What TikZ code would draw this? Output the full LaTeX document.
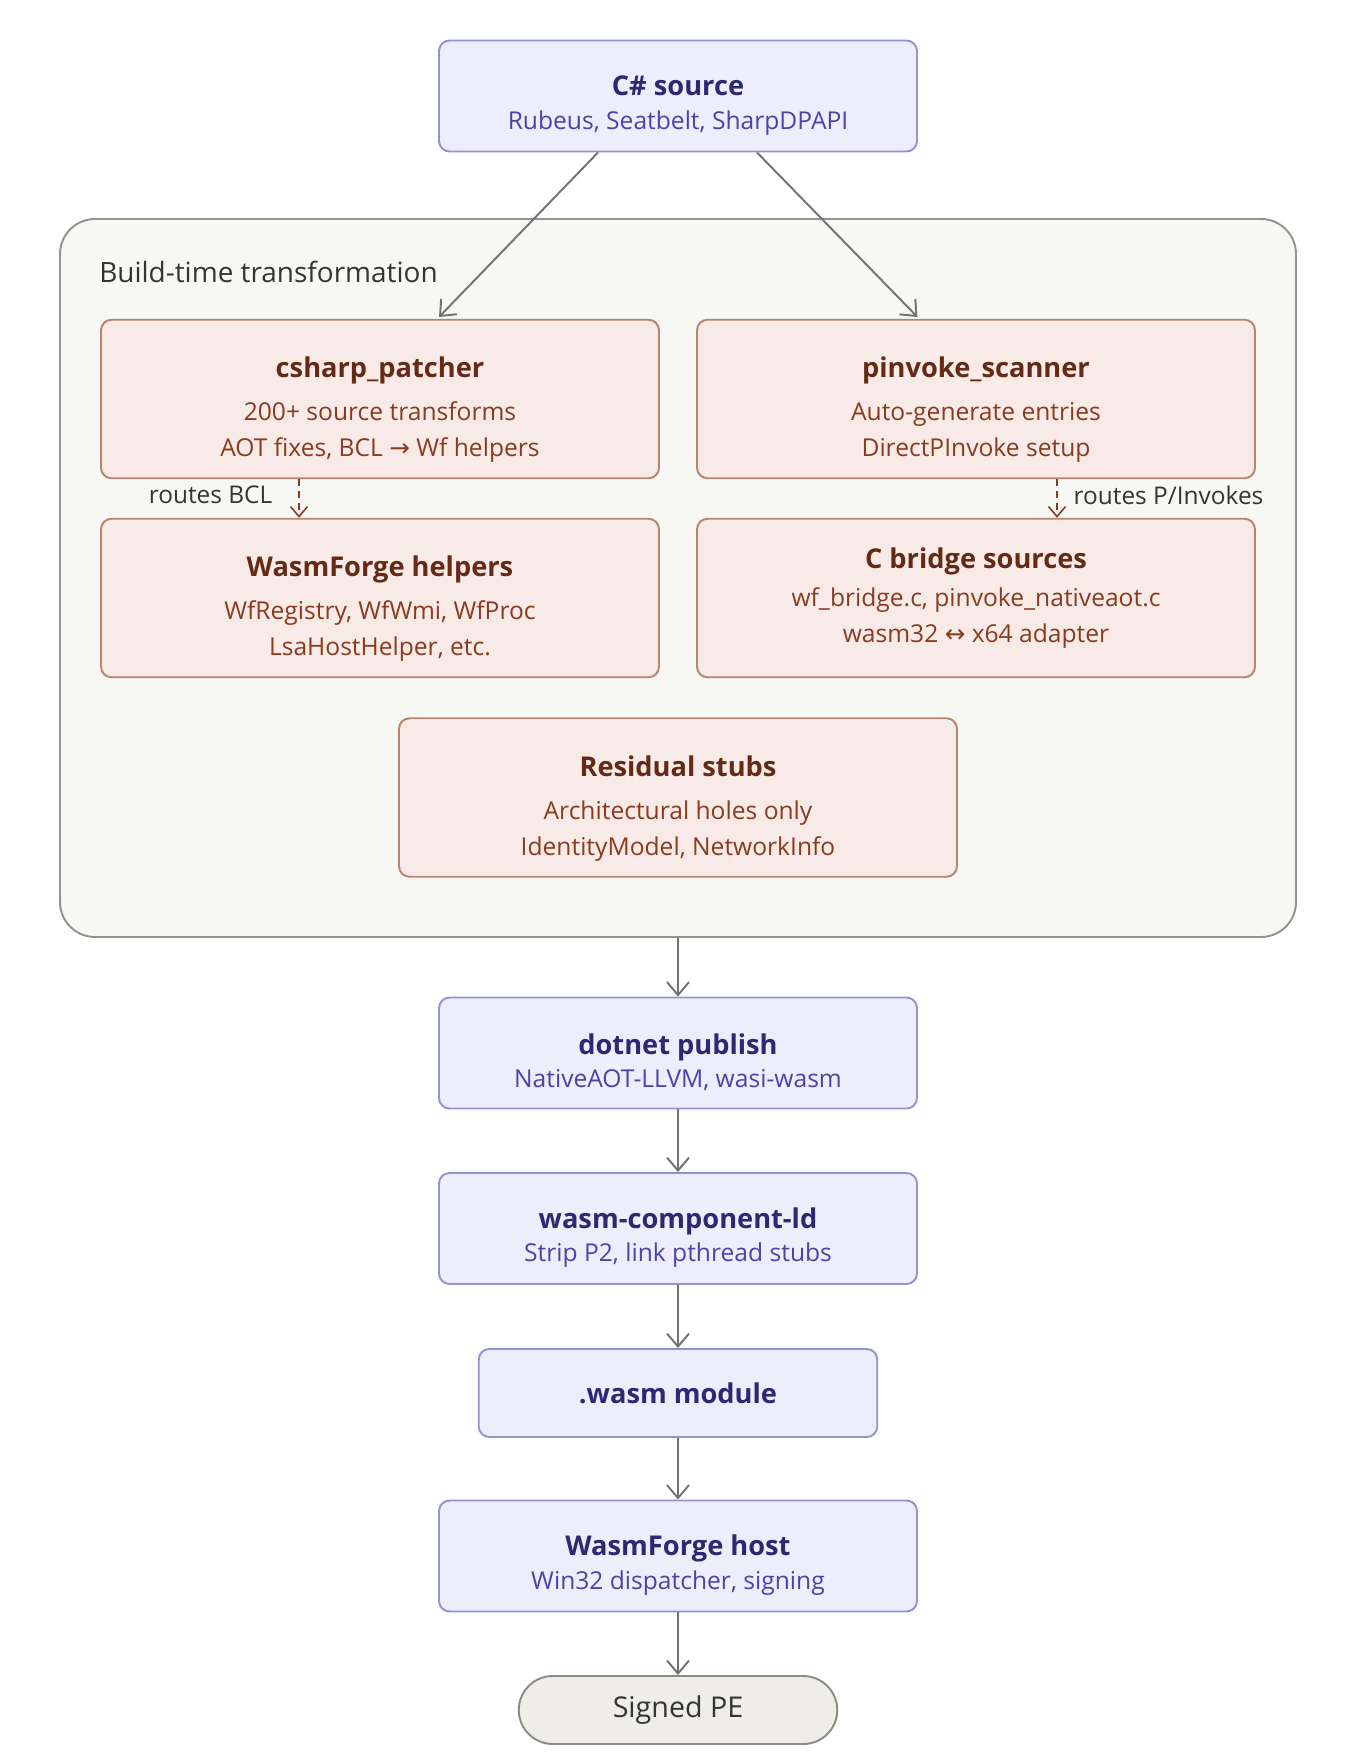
\documentclass[tikz,border=0pt]{standalone}
\usepackage{fontspec}
\setmainfont{Open Sans}
\newfontfamily\symfont{DejaVu Sans}
\usetikzlibrary{arrows.meta, positioning}
\definecolor{cbluefill}{HTML}{EDEDFB}
\definecolor{cblueline}{HTML}{9592D2}
\definecolor{cbluehead}{HTML}{2C2872}
\definecolor{cbluesub}{HTML}{4A44A8}
\definecolor{corfill}{HTML}{F8EBE7}
\definecolor{corline}{HTML}{B8836F}
\definecolor{corhead}{HTML}{652A15}
\definecolor{corsub}{HTML}{8A3A1E}
\definecolor{cgroupfill}{HTML}{F7F7F3}
\definecolor{cgroupline}{HTML}{93928C}
\definecolor{cendfill}{HTML}{EFEDE8}
\definecolor{cendline}{HTML}{8C8B86}
\definecolor{cgrey}{HTML}{727272}
\definecolor{cdark}{HTML}{343432}
% box title, optional strut pushes the text block down
\newcommand{\hd}[2][0pt]{{\fontsize{15.5}{19}\selectfont\bfseries\color{hdcol}\rule{0pt}{#1}#2}}
\tikzset{
  every picture/.style={line width=1.1pt},
  box/.style={draw=c#1line, fill=c#1fill, text=c#1sub, rounded corners=6pt, align=center,
    font=\fontsize{14}{20.5}\selectfont, execute at begin node=\colorlet{hdcol}{c#1head}},
  stepbox/.style={box=blue, minimum width=9.56cm, minimum height=2.22cm},
  toolbox/.style={box=or, minimum width=11.16cm, minimum height=3.17cm},
  arrow/.style={-{Straight Barb[length=2.6mm, width=4.4mm]}, draw=cgrey},
  dasharrow/.style={-{Straight Barb[length=2mm, width=3.4mm]}, draw=corsub, line width=0.9pt,
    dash pattern=on 0.14cm off 0.1cm},
  note/.style={font=\fontsize{13.9}{16}\selectfont, text=cdark, yshift=0.07cm},
}
\begin{document}
\begin{tikzpicture}
  \useasboundingbox (0,0) rectangle (27.14,-35.28);
  % build-time group
  \node[draw=cgroupline, fill=cgroupfill, rounded corners=0.7cm, minimum width=24.72cm,
    minimum height=14.36cm] (build) at (13.56,-11.56) {};
  \node[anchor=west, font=\fontsize{15.9}{18}\selectfont, text=cdark] (buildtitle) at (1.85,-5.44) {Build-time transformation};
  \node[stepbox] (src) at (13.56,-1.92) {\hd[22pt]{C\# source}\\[-1.5pt]Rubeus, Seatbelt, SharpDPAPI};
  \node[toolbox] (patcher) at (7.6,-7.98) {\hd[24pt]{csharp\_patcher}\\[4pt]200+ source transforms\\AOT fixes, BCL {\symfont →} Wf helpers};
  \node[toolbox] (scanner) at (19.52,-7.98) {\hd[24pt]{pinvoke\_scanner}\\[4pt]Auto-generate entries\\DirectPInvoke setup};
  \node[toolbox] (helpers) at (7.6,-11.96) {\hd[24pt]{WasmForge helpers}\\[4pt]WfRegistry, WfWmi, WfProc\\LsaHostHelper, etc.};
  \node[toolbox] (bridge) at (19.52,-11.96) {\hd{C bridge sources}\\[1.5pt]wf\_bridge.c, pinvoke\_nativeaot.c\\wasm32 {\symfont ↔} x64 adapter};
  \node[toolbox] (stubs) at (13.56,-15.95) {\hd[24pt]{Residual stubs}\\[4pt]Architectural holes only\\IdentityModel, NetworkInfo};
  % pipeline
  \node[stepbox] (publish) at (13.56,-21.06) {\hd[22pt]{dotnet publish}\\[-1.5pt]NativeAOT-LLVM, wasi-wasm};
  \node[stepbox] (linker) at (13.56,-24.57) {\hd[22pt]{wasm-component-ld}\\[-1.5pt]Strip P2, link pthread stubs};
  \node[stepbox, minimum width=7.97cm, minimum height=1.76cm] (module) at (13.56,-27.86) {\hd{.wasm module}};
  \node[stepbox] (host) at (13.56,-31.12) {\hd[22pt]{WasmForge host}\\[-1.5pt]Win32 dispatcher, signing};
  \node[draw=cendline, fill=cendfill, rounded corners=0.68cm, minimum width=6.37cm, minimum height=1.36cm,
    font=\fontsize{16.3}{19}\selectfont, text=cdark] (pe) at (13.56,-34.2) {Signed PE};
  \draw[arrow] ([xshift=-1.6cm]src.south) -- ([xshift=1.18cm, yshift=1pt]patcher.north);
  \draw[arrow] ([xshift=1.58cm]src.south) -- ([xshift=-1.17cm, yshift=1pt]scanner.north);
  \draw[dasharrow] ([xshift=-1.62cm]patcher.south) -- ([xshift=-1.62cm]helpers.north)
    node[note, midway, left=0.4cm] (bcl) {routes BCL};
  \draw[dasharrow] ([xshift=1.62cm]scanner.south) -- ([xshift=1.62cm]bridge.north)
    node[note, midway, right=0.2cm] (pinv) {routes P/Invokes};
  \draw[arrow] (build) -- (publish);
  \draw[arrow] (publish) -- (linker);
  \draw[arrow] (linker) -- (module);
  \draw[arrow] (module) -- (host);
  \draw[arrow] (host) -- (pe);
\end{tikzpicture}
\end{document}
